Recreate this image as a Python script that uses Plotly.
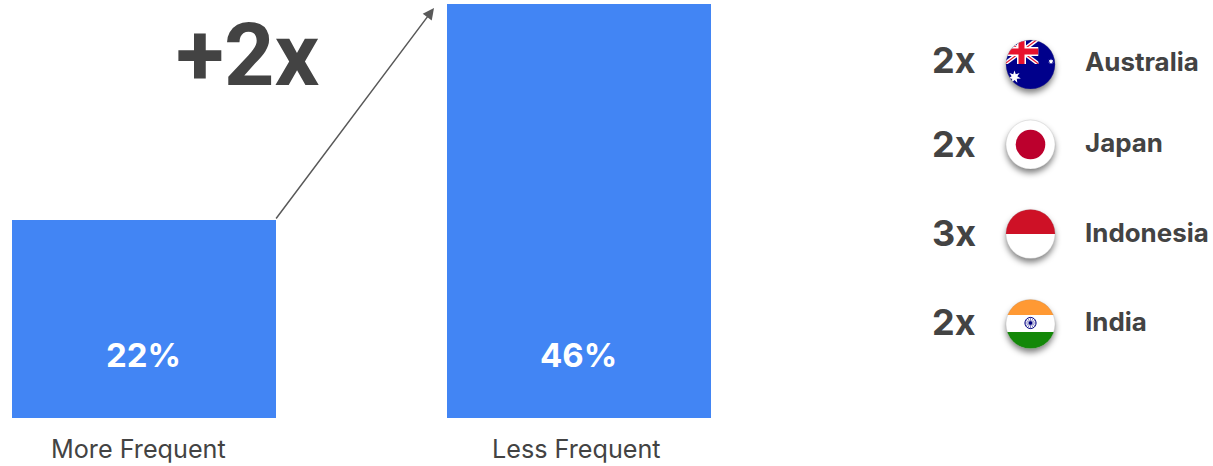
import base64
import math
import plotly.graph_objects as go

# Chart data
categories = ["More Frequent", "Less Frequent"]
values = [22, 46]
value_labels = ["22%", "46%"]
headline = "+2x"
countries = ["Australia", "Japan", "Indonesia", "India"]
multipliers = ["2x", "2x", "3x", "2x"]

# Styling and canvas
W, H = 1213, 466
BLUE = "#4285F4"
INK = "#434343"
FONT = "Inter"
HEADLINE_FONT = "Roboto"
PX_PER_UNIT = 9.0      # vertical pixels per percentage point
PX_PER_CAT = 435.0     # horizontal pixels between bar centres
FIRST_BAR_PX = 144.0
BASE_PX = 418.0


def px(x):
    return x / W


def py(y):
    return 1 - y / H


def star(cx, cy, r, n=7):
    pts = []
    for i in range(2 * n):
        rad = r if i % 2 == 0 else r * 0.45
        a = -math.pi / 2 + i * math.pi / n
        pts.append(f"{cx + rad * math.cos(a):.2f},{cy + rad * math.sin(a):.2f}")
    return f'<polygon points="{" ".join(pts)}" fill="#fff"/>'


def australia():
    cx0, cy0, cx1, cy1 = 14, 14, 48, 39.5
    mx, my = 31, 27
    return (
        '<rect width="80" height="80" fill="#00008B"/>'
        f'<g clip-path="url(#canton)">'
        f'<line x1="{cx0}" y1="{cy0}" x2="{cx1}" y2="{cy1}" stroke="#fff" stroke-width="4"/>'
        f'<line x1="{cx0}" y1="{cy1}" x2="{cx1}" y2="{cy0}" stroke="#fff" stroke-width="4"/>'
        f'<line x1="{cx0}" y1="{cy0}" x2="{cx1}" y2="{cy1}" stroke="#E8112D" stroke-width="1.2"/>'
        f'<line x1="{cx0}" y1="{cy1}" x2="{cx1}" y2="{cy0}" stroke="#E8112D" stroke-width="1.2"/>'
        f'<rect x="{mx - 4.5}" y="{cy0}" width="9" height="{cy1 - cy0}" fill="#fff"/>'
        f'<rect x="{cx0}" y="{my - 4.5}" width="{cx1 - cx0}" height="9" fill="#fff"/>'
        f'<rect x="{mx - 3}" y="{cy0}" width="6" height="{cy1 - cy0}" fill="#E8112D"/>'
        f'<rect x="{cx0}" y="{my - 3}" width="{cx1 - cx0}" height="6" fill="#E8112D"/>'
        '</g>' + star(24, 52.5, 6.5) + star(60.5, 37, 3)
    )


def japan():
    return ('<rect width="80" height="80" fill="#fff"/>'
            '<circle cx="40" cy="40" r="14.8" fill="#BC002D"/>')


def indonesia():
    return ('<rect width="80" height="80" fill="#fff"/>'
            '<rect width="80" height="40" fill="#CE1126"/>')


def india():
    spokes = "".join(
        f'<line x1="40" y1="39" x2="{40 + 5.5 * math.cos(i * math.pi / 6):.2f}" '
        f'y2="{39 + 5.5 * math.sin(i * math.pi / 6):.2f}" stroke="#000080" stroke-width=".5"/>'
        for i in range(12)
    )
    return ('<rect width="80" height="80" fill="#fff"/>'
            '<rect width="80" height="31" fill="#FF9933"/>'
            '<rect y="48" width="80" height="32" fill="#138808"/>'
            '<circle cx="40" cy="39" r="5.6" fill="none" stroke="#000080" stroke-width="1"/>'
            + spokes + '<circle cx="40" cy="39" r="1.8" fill="#000080"/>')


def flag_uri(body):
    svg = (
        '<svg xmlns="http://www.w3.org/2000/svg" width="80" height="80" viewBox="0 0 80 80">'
        '<defs>'
        '<clipPath id="disc"><circle cx="40" cy="40" r="24.6"/></clipPath>'
        '<clipPath id="canton"><rect x="14" y="14" width="34" height="25.5"/></clipPath>'
        '<filter id="lift" x="-30%" y="-30%" width="160%" height="160%">'
        '<feGaussianBlur stdDeviation="3"/></filter>'
        '</defs>'
        '<circle cx="40" cy="44" r="24.4" fill="#000" fill-opacity=".5" filter="url(#lift)"/>'
        f'<g clip-path="url(#disc)">{body}</g>'
        '<circle cx="40" cy="40" r="24.5" fill="none" stroke="#888" stroke-opacity=".35" stroke-width=".6"/>'
        '</svg>'
    )
    return "data:image/svg+xml;base64," + base64.b64encode(svg.encode()).decode()


flags = [australia(), japan(), indonesia(), india()]
flag_cy = [64.5, 144.5, 234, 324]
mult_cy = [60, 144, 233, 322]
name_cy = [61.5, 142.5, 232.5, 321.5]

fig = go.Figure(
    go.Bar(
        x=categories,
        y=values,
        width=264 / PX_PER_CAT,
        marker=dict(color=BLUE, line=dict(width=0)),
        hoverinfo="skip",
    )
)

annotations = []

# Percentages inside the bars, on a common baseline
for cat, label, dx in zip(categories, value_labels, [-1, -1]):
    annotations.append(dict(
        x=cat, y=(BASE_PX - 355) / PX_PER_UNIT, xref="x", yref="y", text=label,
        xshift=dx, showarrow=False, xanchor="center", yanchor="middle",
        font=dict(family=FONT, size=33, color="#FFFFFF", weight=700),
    ))

# Category captions below the baseline
for cat, dx in zip(categories, [-6, -2.5]):
    annotations.append(dict(
        x=cat, y=(BASE_PX - 448.5) / PX_PER_UNIT, xref="x", yref="y", text=cat,
        xshift=dx, showarrow=False, xanchor="center", yanchor="middle",
        font=dict(family=FONT, size=25.2, color=INK, weight=400),
    ))

# Growth arrow from the short bar's corner toward the tall bar
annotations.append(dict(
    x=(434 - FIRST_BAR_PX) / PX_PER_CAT, y=(BASE_PX - 8) / PX_PER_UNIT,
    ax=(275 - FIRST_BAR_PX) / PX_PER_CAT, ay=values[0],
    xref="x", yref="y", axref="x", ayref="y", text="",
    showarrow=True, arrowhead=2, arrowsize=1.5, arrowwidth=1.5, arrowcolor="#595959",
))

annotations.append(dict(
    x=px(247), y=py(54), xref="paper", yref="paper", text=headline,
    showarrow=False, xanchor="center", yanchor="middle",
    font=dict(family=HEADLINE_FONT, size=88, color=INK, weight=700),
))

# Country breakdown
images = []
for name, mult, body, fy, my, ny in zip(countries, multipliers, flags, flag_cy, mult_cy, name_cy):
    annotations.append(dict(
        x=px(953.5), y=py(my), xref="paper", yref="paper", text=mult,
        showarrow=False, xanchor="center", yanchor="middle",
        font=dict(family=FONT, size=36, color=INK, weight=700),
    ))
    annotations.append(dict(
        x=px(1083), y=py(ny), xref="paper", yref="paper", text=name,
        showarrow=False, xanchor="left", yanchor="middle",
        font=dict(family=FONT, size=25.9, color=INK, weight=700),
    ))
    images.append(dict(
        source=flag_uri(body), xref="paper", yref="paper",
        x=px(1030.5 - 40), y=py(fy - 40), sizex=80 / W, sizey=80 / H,
        xanchor="left", yanchor="top", sizing="stretch", layer="above",
    ))

fig.update_layout(
    width=W,
    height=H,
    autosize=False,
    margin=dict(l=0, r=0, t=0, b=0, pad=0),
    paper_bgcolor="#FFFFFF",
    plot_bgcolor="#FFFFFF",
    showlegend=False,
    xaxis=dict(
        visible=False,
        type="category",
        range=[-FIRST_BAR_PX / PX_PER_CAT, (W - FIRST_BAR_PX) / PX_PER_CAT],
        fixedrange=True,
    ),
    yaxis=dict(
        visible=False,
        range=[-(H - BASE_PX) / PX_PER_UNIT, BASE_PX / PX_PER_UNIT],
        fixedrange=True,
    ),
    annotations=annotations,
    images=images,
)

fig.write_html("out.html", config={"displayModeBar": False})
